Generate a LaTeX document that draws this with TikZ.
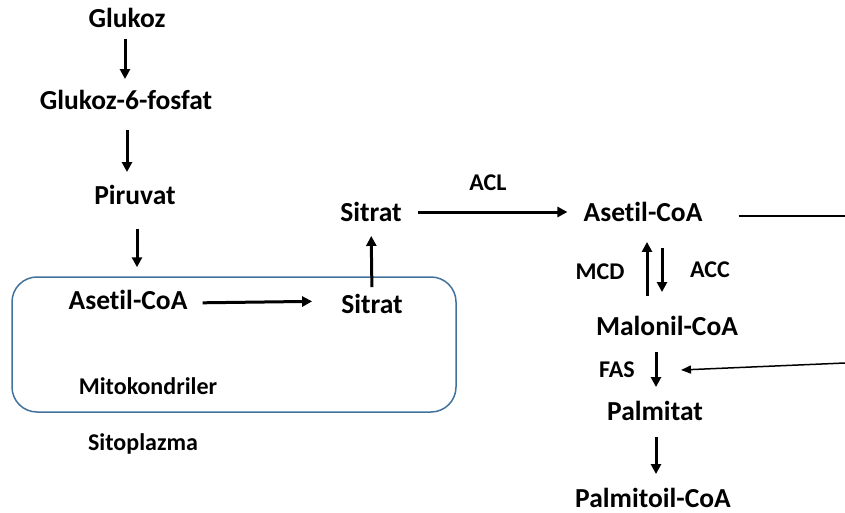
\documentclass[tikz,border=0pt]{standalone}
\usepackage{fontspec}
\setmainfont{Carlito}[Ligatures={NoCommon}]
\usetikzlibrary{arrows.meta}
\definecolor{boxblue}{RGB}{65,113,156}
\begin{document}
\begin{tikzpicture}[x=1pt,y=-1pt,
  lab/.style={font=\bfseries\fontsize{27.5}{32}\selectfont, inner sep=0pt},
  sm/.style={font=\bfseries\fontsize{24}{28}\selectfont, inner sep=0pt},
  arr/.style={line width=3pt, -{Triangle[length=10pt,width=10pt]}},
  thinarr/.style={line width=1.5pt, -{Triangle[length=10pt,width=8pt]}},
  plain/.style={line width=1.5pt}]
\useasboundingbox (0,0) rectangle (845,513);
% mitochondria box
\node[draw=boxblue, line width=1.5pt, rounded corners=25pt, minimum width=444pt, minimum height=135pt, inner sep=0pt] (mito) at (234,344.5) {};
% labels
\node[lab] (glu) at (127,18) {Glukoz};
\node[lab] (g6p) at (126,100) {Glukoz-6-fosfat};
\node[lab] (pir) at (135,195) {Piruvat};
\node[lab] (acm) at (128,300) {Asetil-CoA};
\node[lab] (sim) at (372,304) {Sitrat};
\node[lab] (sic) at (371,212) {Sitrat};
\node[lab] (acc) at (643,212) {Asetil-CoA};
\node[lab] (mal) at (667,326) {Malonil-CoA};
\node[lab] (pal) at (655,411) {Palmitat};
\node[lab] (pcoa) at (653,498) {Palmitoil-CoA};
\node[sm] (mitolab) at (148,386) {Mitokondriler};
\node[sm] (sito) at (143,444) {Sitoplazma};
\node[sm] (acl) at (488,183) {ACL};
\node[sm] (mcd) at (600,272) {MCD};
\node[sm] (accl) at (710,270) {ACC};
\node[sm] (fas) at (617,370) {FAS};
\coordinate (r1) at (845,216);
\coordinate (r2) at (845,363);
\coordinate (fasin) at (681,370);
% arrows
\draw[arr, shorten <=11pt, shorten >=11pt] ([xshift=-2pt]glu.south) -- ([xshift=-1pt]g6p.north);
\draw[arr, shorten <=20pt, shorten >=13pt] ([xshift=1pt]g6p.south) -- ([xshift=-8pt]pir.north);
\draw[arr, shorten <=24pt, shorten >=9pt] ([xshift=2pt]pir.south) -- ([xshift=2pt]pir.south |- mito.north);
\draw[arr, shorten <=15pt, shorten >=29pt] ([yshift=-3pt]acm.east) -- ([yshift=3pt]sim.west);
\draw[arr, shorten <=7pt, shorten >=14pt] (sim.north) -- (sic.south);
\draw[arr, shorten <=16pt, shorten >=16pt] (sic.east) -- (acc.west);
\draw[arr, shorten <=20pt, shorten >=20pt] ([xshift=-20pt]mal.north) -- ([xshift=4pt]acc.south);
\draw[arr, shorten <=26pt, shorten >=24pt] ([xshift=19pt]acc.south) -- ([xshift=-5pt]mal.north);
\draw[arr, shorten <=16pt, shorten >=14pt] ([xshift=-11pt]mal.south) -- ([xshift=1pt]pal.north);
\draw[arr, shorten <=16pt, shorten >=14pt] ([xshift=1pt]pal.south) -- ([xshift=3pt]pcoa.north);
\draw[plain, shorten <=36pt] (acc.east |- r1) -- (r1);
\draw[thinarr] (r2) -- (fasin);
\end{tikzpicture}
\end{document}
